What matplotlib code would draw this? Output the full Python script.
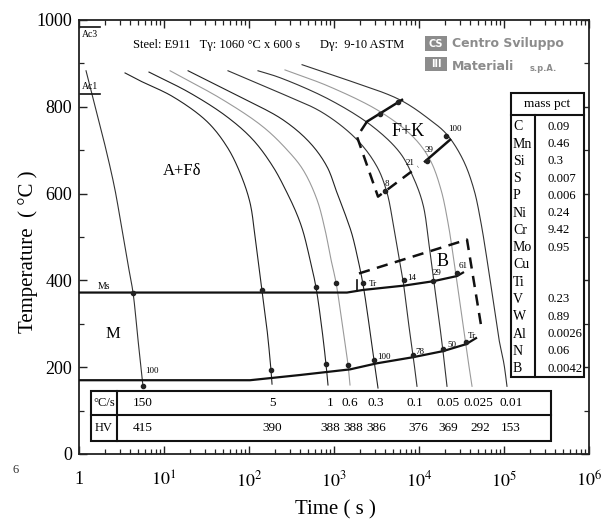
import numpy as np
import matplotlib
matplotlib.use("Agg")
import matplotlib.pyplot as plt
from matplotlib.patches import Rectangle
from matplotlib.ticker import LogLocator, FixedLocator, NullFormatter, FuncFormatter

plt.rcParams['font.family'] = ['Liberation Serif', 'DejaVu Serif']
plt.rcParams['mathtext.fontset'] = 'stix'

# ---------------- data ----------------
rates = ['150', '5', '1', '0.6', '0.3', '0.1', '0.05', '0.025', '0.01']
hardness = ['415', '390', '388', '388', '386', '376', '369', '292', '153']

c150_t = [1.21, 1.585, 2.08, 2.65, 3.2, 3.77, 4.32, 4.94, 5.66]
c150_T = [883, 793, 701, 609, 517, 437, 372, 264, 156]
c5_t = [3.48, 5.22, 12.8, 32.1, 55.1, 78.4, 102.8, 117.7, 127.6, 142.2, 162.9, 181.5, 186.6]
c5_T = [878, 860, 823, 766, 708, 648, 579, 501, 448, 377, 287, 193, 161]
c1_t = [6.66, 20.2, 55.1, 111.4, 191.5, 280, 367, 432, 522, 614, 722, 805, 850]
c1_T = [880, 832, 777, 724, 662, 602, 552, 513, 448, 384, 287, 207, 159]
c06_t = [11.8, 49.4, 146, 280, 432, 631, 784, 922, 1056, 1276, 1462, 1543]
c06_T = [883, 816, 754, 701, 655, 586, 517, 448, 395, 287, 205, 159]
c03_t = [19.2, 78.4, 251, 522, 828, 1084, 1384, 1629, 1916, 2194, 2582, 2955, 3294]
c03_T = [883, 823, 770, 717, 662, 602, 547, 506, 448, 391, 299, 216, 152]
c01_t = [56.6, 232, 742, 1866, 3206, 4205, 4944, 5660, 6486, 7430, 8497, 9470]
c01_T = [883, 832, 786, 724, 662, 602, 533, 467, 400, 310, 228, 156]
c005_t = [127.6, 232, 897, 2875, 5975, 8497, 11143, 13110, 15010, 17180, 19150, 21350]
c005_T = [883, 867, 816, 754, 694, 639, 575, 483, 395, 310, 237, 156]
c0025_t = [265, 897, 3475, 8497, 13466, 18150, 21930, 25120, 28770, 32950, 37670, 42060]
c0025_T = [885, 846, 789, 731, 678, 609, 533, 460, 379, 299, 218, 156]
c001_t = [421, 1422, 5975, 13466, 21350, 32950, 44360, 53580, 63100, 74280, 87340, 100000, 108400]
c001_T = [897, 862, 816, 770, 736, 678, 609, 533, 448, 356, 264, 207, 156]

# Ms and Mf lines
ms_t = [1, 1422, 2194, 6666, 14622, 28000, 32950]
ms_T = [372, 372, 378, 388, 398, 410, 418]
mf_t = [1, 102.8, 398, 1543, 3206, 8497, 19150, 35740, 46880]
mf_T = [170, 170, 182, 195, 209, 223, 237, 253, 267]

# transformation points
ms_dot_t = [4.32, 142.2, 614, 1056, 2194, 6666, 14622, 28000]
ms_dot_T = [372, 377, 384, 395, 395, 400, 398, 418]
mf_dot_t = [5.66, 181.5, 805, 1462, 2955, 8497, 19150, 35740]
mf_dot_T = [156, 193, 207, 205, 216, 228, 241, 258]
fk_dot_t = [3475, 5660, 3981, 12420, 20780]
fk_dot_T = [784, 812, 605, 676, 733]

# F+K and bainite region boundaries
fk_top_t = [2445, 6310]
fk_top_T = [766, 816]
fk_dash_t = [2445, 1866, 3294, 9727]
fk_dash_T = [766, 731, 593, 662]
fk_right_t = [11770, 23170]
fk_right_T = [674, 724]
b_dash_t = [1968, 36700, 55100]
b_dash_T = [416, 494, 283]

# composition
elements = ['C', 'Mn', 'Si', 'S', 'P', 'Ni', 'Cr', 'Mo', 'Cu', 'Ti', 'V', 'W', 'Al', 'N', 'B']
mass_pct = ['0.09', '0.46', '0.3', '0.007', '0.006', '0.24', '9.42', '0.95', '', '',
            '0.23', '0.89', '0.0026', '0.06', '0.0042']

# ---------------- helpers ----------------
SU, SV = 85.0, 0.435  # approx. display scaling so that smoothing is isotropic


def smooth(t, T, n=16, alpha=0.5):
    """Centripetal Catmull-Rom drawing of a line through the read points."""
    u = np.log10(np.asarray(t, float)) * SU
    v = np.asarray(T, float) * SV
    P = np.column_stack([u, v])
    P = np.vstack([2 * P[0] - P[1], P, 2 * P[-1] - P[-2]])
    out = []
    for i in range(1, len(P) - 2):
        p0, p1, p2, p3 = P[i - 1], P[i], P[i + 1], P[i + 2]
        t0 = 0.0
        t1 = t0 + np.linalg.norm(p1 - p0) ** alpha
        t2 = t1 + np.linalg.norm(p2 - p1) ** alpha
        t3 = t2 + np.linalg.norm(p3 - p2) ** alpha
        s = np.linspace(t1, t2, n, endpoint=False)[:, None]
        A1 = (t1 - s) / (t1 - t0) * p0 + (s - t0) / (t1 - t0) * p1
        A2 = (t2 - s) / (t2 - t1) * p1 + (s - t1) / (t2 - t1) * p2
        A3 = (t3 - s) / (t3 - t2) * p2 + (s - t2) / (t3 - t2) * p3
        B1 = (t2 - s) / (t2 - t0) * A1 + (s - t0) / (t2 - t0) * A2
        B2 = (t3 - s) / (t3 - t1) * A2 + (s - t1) / (t3 - t1) * A3
        C = (t2 - s) / (t2 - t1) * B1 + (s - t1) / (t2 - t1) * B2
        out.append(C)
    out.append(P[-2][None])
    pts = np.vstack(out)
    return 10 ** (pts[:, 0] / SU), pts[:, 1] / SV


# ---------------- figure ----------------
fig = plt.figure(figsize=(6.06, 5.24), dpi=100)
ax = fig.add_axes([79 / 606, 70 / 524, 510 / 606, 434 / 524])
ax.set_xscale('log')
ax.set_xlim(1, 1e6)
ax.set_ylim(0, 1000)

curves = [(c150_t, c150_T, '#333333'), (c5_t, c5_T, '#222222'), (c1_t, c1_T, '#222222'),
          (c06_t, c06_T, '#9a9a9a'), (c03_t, c03_T, '#222222'), (c01_t, c01_T, '#333333'),
          (c005_t, c005_T, '#333333'), (c0025_t, c0025_T, '#9a9a9a'), (c001_t, c001_T, '#333333')]
for t, T, col in curves:
    xs, ys = smooth(t, T)
    ax.plot(xs, ys, color=col, lw=0.8, zorder=2)

ax.plot(ms_t, ms_T, color='#111111', lw=1.6, zorder=3)
ax.plot(mf_t, mf_T, color='#111111', lw=1.6, zorder=3)
ax.plot(ms_dot_t, ms_dot_T, 'o', ms=3, color='#222222', zorder=4)
ax.plot(mf_dot_t, mf_dot_T, 'o', ms=3, color='#222222', zorder=4)
ax.plot(fk_dot_t, fk_dot_T, 'o', ms=3, color='#222222', zorder=4)

ax.plot(fk_top_t, fk_top_T, color='#111111', lw=1.8, zorder=3)
ax.plot(fk_right_t, fk_right_T, color='#111111', lw=1.8, zorder=3)
ax.plot(fk_dash_t, fk_dash_T, color='#111111', lw=1.8, ls=(0, (4.5, 3)), zorder=3)
ax.plot(b_dash_t, b_dash_T, color='#111111', lw=1.8, ls=(0, (4.5, 3)), zorder=3)
ax.plot([1866, 1866], [375, 400], color='#111111', lw=1.2)

# Ac lines
ax.plot([1, 1.77], [984, 984], color='#111111', lw=1.2)
ax.plot([1, 1.77], [830, 830], color='#111111', lw=1.2)
ax.text(1.08, 978, 'Ac3', fontsize=7, va='top', ha='left')
ax.text(1.08, 836, 'Ac1', fontsize=7, va='bottom', ha='left')
ax.text(1.97, 386, 'Ms', fontsize=7, va='center', ha='center')

# region labels
ax.text(16.3, 651, 'A+F\u03b4', fontsize=12, ha='center', va='center')
ax.text(2.51, 276, 'M', fontsize=12, ha='center', va='center')
ax.text(7430, 743, 'F+K', fontsize=13, ha='center', va='center')
ax.text(18660, 444, 'B', fontsize=13, ha='center', va='center')

small = dict(fontsize=6.5, ha='left', va='center')
ax.text(5.98, 191, '100', **small)
ax.text(2582, 391, 'Tr', **small)
ax.text(7230, 405, '14', **small)
ax.text(14622, 416, '29', **small)
ax.text(29560, 434, '61', **small)
ax.text(3206, 223, '100', **small)
ax.text(8970, 234, '78', **small)
ax.text(21350, 251, '50', **small)
ax.text(37600, 271, 'Tr', **small)
ax.text(3981, 623, '8', **small)
ax.text(7031, 671, '21', **small)
ax.text(11460, 701, '39', **small)
ax.text(21930, 749, '100', **small)

# rate / hardness table
tb_l, tb_r, tb_div = 1.38, 357000, 2.8
tb_top, tb_mid, tb_bot = 145, 90, 30
ax.add_patch(Rectangle((tb_l, tb_bot), tb_r - tb_l, tb_top - tb_bot, fill=True,
                       facecolor='white', edgecolor='#111111', lw=1.5, zorder=5))
ax.plot([tb_l, tb_r], [tb_mid, tb_mid], color='#111111', lw=1.5, zorder=6)
ax.plot([tb_div, tb_div], [tb_bot, tb_top], color='#111111', lw=1.5, zorder=6)
ax.text(1.97, 117, '\u00b0C/s', fontsize=9, ha='center', va='center', zorder=7)
ax.text(1.97, 60, 'HV', fontsize=9, ha='center', va='center', zorder=7)
rate_x = [5.66, 186.6, 897, 1543, 3120, 8970, 21930, 49400, 120900]
hv_x = [5.66, 186.6, 897, 1680, 3120, 9727, 21930, 52000, 120900]
for x, r in zip(rate_x, rates):
    ax.text(x, 117, r, fontsize=9.5, ha='center', va='center', zorder=7)
for x, h in zip(hv_x, hardness):
    ax.text(x, 60, h, fontsize=9.5, ha='center', va='center', zorder=7)

# composition table (axes coords)
tr = ax.transAxes
cl, cr, cd = 0.847, 0.990, 0.894
ct, ch, cb = 0.832, 0.782, 0.177
ax.add_patch(Rectangle((cl, cb), cr - cl, ct - cb, transform=tr, facecolor='white',
                       edgecolor='#111111', lw=1.5, zorder=5))
ax.plot([cl, cr], [ch, ch], transform=tr, color='#111111', lw=1.5, zorder=6)
ax.plot([cd, cd], [cb, ch], transform=tr, color='#111111', lw=1.5, zorder=6)
ax.text((cl + cr) / 2, 0.807, 'mass pct', transform=tr, fontsize=9.5, ha='center',
        va='center', zorder=7)
for i, (e, m) in enumerate(zip(elements, mass_pct)):
    yy = 0.754 - i * 0.0398
    ax.text(0.851, yy, e, transform=tr, fontsize=10, ha='left', va='center', zorder=7)
    ax.text(0.918, yy, m, transform=tr, fontsize=9.2, ha='left', va='center', zorder=7)

# header texts
ax.text(0.106, 0.943, 'Steel: E911   T\u03b3: 1060 \u00b0C x 600 s', transform=tr,
        fontsize=9, ha='left', va='center')
ax.text(0.473, 0.943, 'D\u03b3:  9-10 ASTM', transform=tr, fontsize=9, ha='left', va='center')

# logo
logo_col = '#8c8c8c'
ax.add_patch(Rectangle((0.678, 0.928), 0.044, 0.035, transform=tr, facecolor=logo_col,
                       edgecolor='none'))
ax.add_patch(Rectangle((0.678, 0.882), 0.044, 0.033, transform=tr, facecolor=logo_col,
                       edgecolor='none'))
ax.text(0.700, 0.9455, 'CS', transform=tr, fontsize=7, color='white', fontweight='bold',
        ha='center', va='center', family='DejaVu Sans')
ax.text(0.700, 0.8985, 'III', transform=tr, fontsize=7, color='white', fontweight='bold',
        ha='center', va='center', family='DejaVu Sans')
ax.text(0.731, 0.947, 'Centro Sviluppo', transform=tr, fontsize=9, color=logo_col,
        fontweight='bold', ha='left', va='center', family='DejaVu Sans')
ax.text(0.731, 0.893, 'Materiali', transform=tr, fontsize=9, color=logo_col,
        fontweight='bold', ha='left', va='center', family='DejaVu Sans')
ax.text(0.884, 0.889, 's.p.A.', transform=tr, fontsize=6, color=logo_col,
        fontweight='bold', ha='left', va='center', family='DejaVu Sans')

# axes styling
for s in ax.spines.values():
    s.set_linewidth(1.3)
    s.set_color('#222222')
ax.xaxis.set_major_locator(LogLocator(base=10, numticks=10))
ax.xaxis.set_minor_locator(LogLocator(base=10, subs=np.arange(2, 10), numticks=20))
ax.xaxis.set_minor_formatter(NullFormatter())


def xfmt(v, pos):
    e = int(round(np.log10(v)))
    return '1' if e == 0 else r'$10^{%d}$' % e


ax.xaxis.set_major_formatter(FuncFormatter(xfmt))
ax.yaxis.set_major_locator(FixedLocator([0, 200, 400, 600, 800, 1000]))
ax.yaxis.set_minor_locator(FixedLocator([100, 300, 500, 700, 900]))
ax.tick_params(axis='both', which='both', direction='in', top=True, right=True, color='#222222')
ax.tick_params(axis='both', which='major', length=6, width=1.0)
ax.tick_params(axis='both', which='minor', length=3.5, width=0.9)
ax.tick_params(axis='x', which='major', labelsize=13, pad=12)
ax.tick_params(axis='y', which='major', labelsize=13, pad=5)

fig.text(28 / 606, 1 - 252 / 524, 'Temperature  ( \u00b0C )', rotation=90, fontsize=15,
         ha='center', va='center')
fig.text(335 / 606, 1 - 510 / 524, 'Time ( s )', fontsize=15, ha='center', va='center')
fig.text(16 / 606, 1 - 470 / 524, '6', fontsize=9, ha='center', va='center', color='#333333')

fig.savefig('out.png', dpi=100)
